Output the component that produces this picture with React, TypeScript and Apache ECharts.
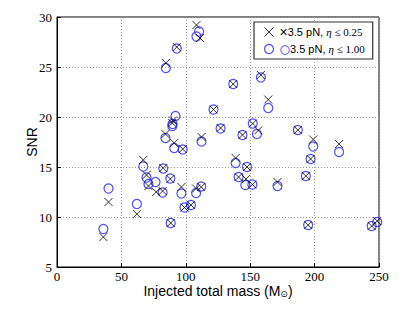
import React, { useEffect, useRef } from "react";
import * as echarts from "echarts";

const xMass = [36, 40, 62, 67, 69.5, 71, 77, 82, 82.5, 88, 88.3, 96.6, 99, 104, 108, 112, 108.3, 111, 93, 84.5, 90, 89.5, 84.2, 91, 97.6, 112.2, 121.5, 127, 136.8, 138.7, 141, 144, 147.5, 146.8, 151.7, 152, 156.2, 158.3, 164, 171.2, 187, 193.2, 196.9, 195, 198.9, 219, 244.3, 248.6];
const xSnr = [8.0, 11.5, 10.3, 15.7, 14.2, 13.1, 12.5, 12.6, 14.9, 13.8, 9.4, 13.0, 10.95, 11.2, 12.85, 13.0, 29.2, 27.9, 27.0, 25.4, 19.65, 19.4, 18.3, 17.4, 16.8, 18.0, 20.75, 18.9, 23.3, 15.9, 14.0, 18.2, 15.0, 13.8, 13.25, 19.35, 18.65, 24.2, 21.75, 13.5, 18.7, 14.1, 15.8, 9.2, 17.75, 17.3, 9.1, 9.6];

const oMass = [36, 40, 62, 67, 69.5, 71, 76.5, 82, 82.5, 88, 88.3, 96.6, 99, 104, 108, 112, 110.3, 108.3, 93, 84.5, 92, 89.7, 89.5, 84.2, 91, 97.6, 112.2, 121.5, 127, 136.8, 138.7, 141, 144, 147.5, 146.2, 151.7, 152, 155.2, 158.3, 164, 171.2, 187, 193.2, 196.9, 195, 198.9, 219, 244.3, 248.6];
const oSnr = [8.8, 12.85, 11.3, 15.05, 13.95, 13.3, 13.5, 12.45, 14.85, 13.85, 9.4, 12.35, 10.95, 11.2, 12.4, 13.05, 28.55, 28.05, 26.85, 24.9, 20.1, 19.3, 19.1, 17.9, 16.9, 16.75, 17.55, 20.75, 18.85, 23.3, 15.4, 14.0, 18.2, 15.0, 13.2, 13.25, 19.35, 18.3, 23.95, 20.9, 13.1, 18.7, 14.1, 15.8, 9.2, 17.05, 16.5, 9.1, 9.5];

const xTicks = [0, 50, 100, 150, 200, 250];
const yTicks = [5, 10, 15, 20, 25, 30];

const nameX = "3.5 pN, η ≤ 0.25";
const nameO = "3.5 pN, η ≤ 1.00";

const X_PATH = "path://M0,0L10,10M10,0L0,10";

export default function App() {
  const ref = useRef<HTMLDivElement>(null);
  useEffect(() => {
    if (!ref.current) return;
    const chart = echarts.init(ref.current, null, { renderer: "svg" });
    const serif = "'Liberation Serif', 'DejaVu Serif', serif";
    const sans = "'Liberation Sans', Arial, sans-serif";
    chart.setOption({
      animation: false,
      backgroundColor: "#fff",
      grid: {
        left: 57,
        right: 36,
        top: 17,
        bottom: 45,
        show: true,
        borderColor: "#000",
        borderWidth: 1,
        backgroundColor: "transparent",
      },
      legend: {
        orient: "vertical",
        left: 254,
        top: 22,
        padding: [3, 8, 3, 8],
        itemGap: 3,
        itemWidth: 9,
        itemHeight: 9,
        backgroundColor: "#fff",
        borderColor: "#333",
        borderWidth: 1.2,
        borderRadius: 0,
        data: [
          {
            name: nameX,
            icon: X_PATH,
            itemStyle: { color: "none", borderColor: "#000", borderWidth: 1 },
          },
          {
            name: nameO,
            icon: "circle",
            itemStyle: { color: "none", borderColor: "#2222ff", borderWidth: 1.2 },
          },
        ],
        formatter: (n: string) =>
          n === nameX
            ? "{k|×}{s|3.5 pN, }{e|η}{m| ≤ 0.25}"
            : "{c|○}{s|3.5 pN, }{e|η}{m| ≤ 1.00}",
        textStyle: {
          rich: {
            k: { fontFamily: sans, fontSize: 14, color: "#000", padding: [0, 0, 0, 1] },
            c: { fontFamily: "'DejaVu Sans', sans-serif", fontSize: 12, color: "#2222ff", padding: [0, 0, 0, 1] },
            s: { fontFamily: sans, fontSize: 11, color: "#000" },
            e: { fontFamily: serif, fontSize: 11, fontStyle: "italic", color: "#000" },
            m: { fontFamily: serif, fontSize: 11, color: "#000" },
          },
        },
      },
      xAxis: {
        type: "value",
        min: xTicks[0],
        max: xTicks[xTicks.length - 1],
        interval: 50,
        name: "Injected total mass (M{sub|⊙})",
        nameLocation: "middle",
        nameGap: 16,
        nameMoveOverlap: false,
        nameTextStyle: {
          fontFamily: sans,
          fontSize: 14,
          color: "#000",
          rich: {
            sub: { fontFamily: "'DejaVu Sans', sans-serif", fontSize: 9, color: "#000", verticalAlign: "bottom", padding: [6, 0, 0, 0] },
          },
        },
        axisLine: { onZero: false, lineStyle: { color: "#000", width: 1 } },
        axisTick: { show: true, inside: true, length: 4, lineStyle: { color: "#000" } },
        axisLabel: {
          fontFamily: serif,
          fontSize: 13,
          color: "#000",
          margin: 3,
        },
        splitLine: { show: true, lineStyle: { color: "#999", type: [1, 2], width: 1 } },
      },
      yAxis: {
        type: "value",
        min: yTicks[0],
        max: yTicks[yTicks.length - 1],
        interval: 5,
        name: "SNR",
        nameLocation: "middle",
        nameGap: 18,
        nameMoveOverlap: false,
        nameTextStyle: { fontFamily: sans, fontSize: 14, color: "#000" },
        axisLine: { onZero: false, lineStyle: { color: "#000", width: 1 } },
        axisTick: { show: true, inside: true, length: 4, lineStyle: { color: "#000" } },
        axisLabel: {
          fontFamily: serif,
          fontSize: 13,
          color: "#000",
          margin: 5,
        },
        splitLine: { show: true, lineStyle: { color: "#999", type: [1, 2], width: 1 } },
      },
      series: [
        {
          name: nameX,
          type: "scatter",
          symbol: X_PATH,
          symbolSize: 8,
          itemStyle: { color: "none", borderColor: "#000", borderWidth: 1 },
          data: xMass.map((m, i) => [m, xSnr[i]]),
          z: 3,
        },
        {
          name: nameO,
          type: "scatter",
          symbol: "circle",
          symbolSize: 9,
          itemStyle: { color: "none", borderColor: "#2222ff", borderWidth: 1.2 },
          data: oMass.map((m, i) => [m, oSnr[i]]),
          z: 2,
        },
      ],
    });
    return () => chart.dispose();
  }, []);
  return <div ref={ref} style={{ width: 415, height: 312, margin: -8 }} />;
}
